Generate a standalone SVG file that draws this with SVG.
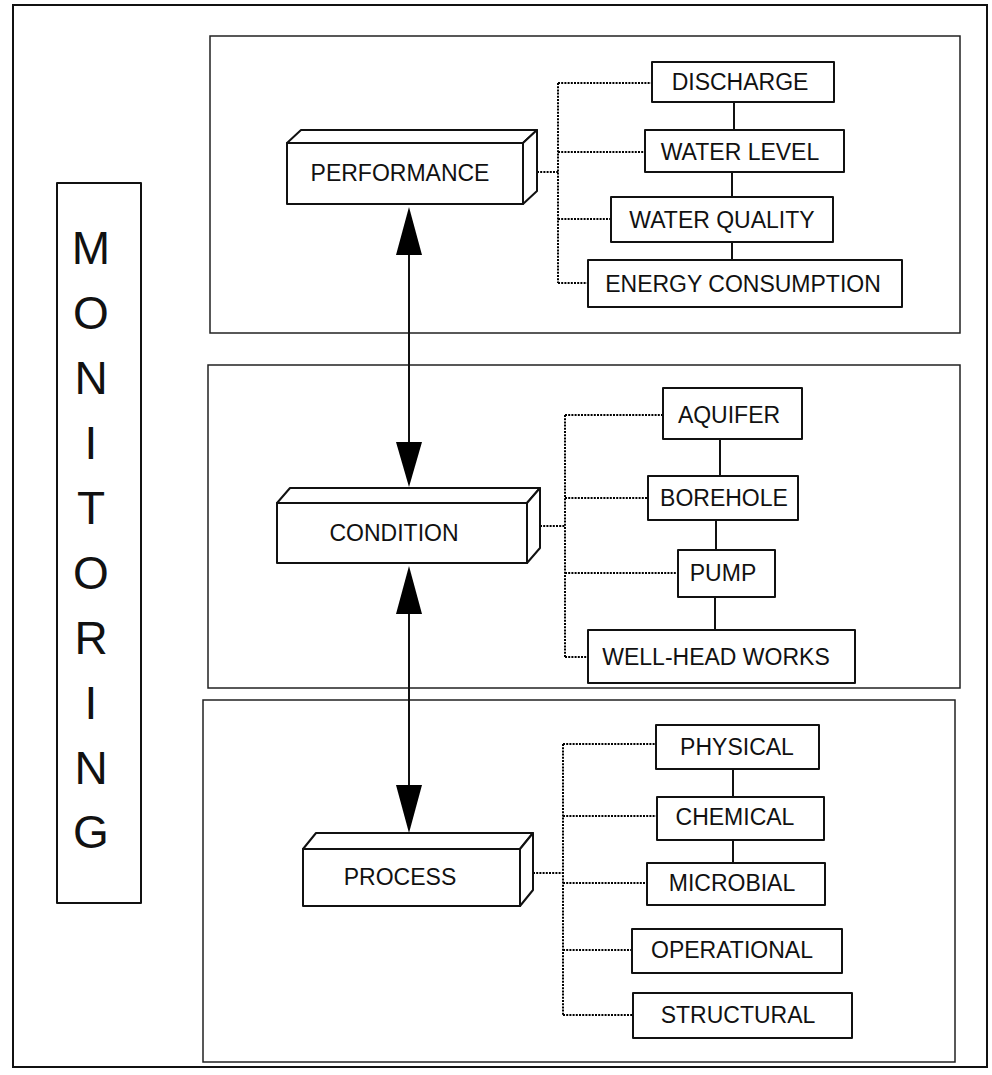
<svg xmlns="http://www.w3.org/2000/svg" width="992" height="1075" viewBox="0 0 992 1075">
<style>
.frame{fill:none;stroke:#111;stroke-width:2}
.sec{fill:none;stroke:#222;stroke-width:1.5}
.box{fill:#fff;stroke:#111;stroke-width:2;stroke-linejoin:round}
.lbl{font-family:"Liberation Sans",Arial,sans-serif;font-size:23px;fill:#111;text-anchor:middle}
.big{font-family:"Liberation Sans",Arial,sans-serif;font-size:46px;fill:#111;text-anchor:middle}
.dot{fill:none;stroke:#000;stroke-width:2;stroke-dasharray:2 1.2}
.sol{fill:none;stroke:#111;stroke-width:2}
.head{fill:#000}
</style>
<rect x="13" y="5" width="974" height="1062" class="frame"/>
<g id="sections">
<rect x="210" y="36" width="750" height="297" class="sec"/>
<rect x="208" y="365" width="752" height="323" class="sec"/>
<rect x="203" y="700" width="752" height="362" class="sec"/>
</g>
<g id="monitoring">
<rect x="57" y="183" width="84" height="720" class="box"/>
<text class="big" x="91" y="264">M</text>
<text class="big" x="91" y="329">O</text>
<text class="big" x="91" y="394">N</text>
<text class="big" x="91" y="459">I</text>
<text class="big" x="91" y="524">T</text>
<text class="big" x="91" y="589">O</text>
<text class="big" x="91" y="654">R</text>
<text class="big" x="91" y="719">I</text>
<text class="big" x="91" y="784">N</text>
<text class="big" x="91" y="848">G</text>
</g>
<g id="connectors">
<line x1="409" y1="230" x2="409" y2="465" class="sol"/>
<polygon class="head" points="409,207 396,255 422,255"/>
<polygon class="head" points="409,487 396,442 422,442"/>
<line x1="409" y1="590" x2="409" y2="810" class="sol"/>
<polygon class="head" points="409,566 396,614 422,614"/>
<polygon class="head" points="409,833 396,785 422,785"/>
<path class="dot" d="M537 172H558M558 83V283M558 83H652M558 152H645M558 219H611M558 283H588"/>
<path class="dot" d="M540 526H565M565 415V657M565 415H663M565 498H648M565 573H678M565 657H588"/>
<path class="dot" d="M533 873H563M563 744V1015M563 744H656M563 816H657M563 883H647M563 950H632M563 1015H633"/>
<path class="sol" d="M734 102V130M732 172V197M732 242V260M720 439V476M716 520V550M715 597V630M733 769V797M733 840V863"/>
</g>
<g id="performance">
<polygon class="box" points="287,143 301,130 537,130 523,143"/>
<polygon class="box" points="523,143 537,130 537,191 523,204"/>
<rect x="287" y="143" width="236" height="61" class="box"/>
<text class="lbl" x="400" y="181">PERFORMANCE</text>
</g>
<g id="condition">
<polygon class="box" points="277,503 290,488 540,488 527,503"/>
<polygon class="box" points="527,503 540,488 540,548 527,563"/>
<rect x="277" y="503" width="250" height="60" class="box"/>
<text class="lbl" x="394" y="541">CONDITION</text>
</g>
<g id="process">
<polygon class="box" points="303,849 316,833 533,833 520,849"/>
<polygon class="box" points="520,849 533,833 533,890 520,906"/>
<rect x="303" y="849" width="217" height="57" class="box"/>
<text class="lbl" x="400" y="885">PROCESS</text>
</g>
<g id="discharge"><rect x="652" y="62" width="182" height="40" class="box"/><text class="lbl" x="740" y="90">DISCHARGE</text></g>
<g id="water-level"><rect x="645" y="130" width="199" height="42" class="box"/><text class="lbl" x="740" y="160">WATER LEVEL</text></g>
<g id="water-quality"><rect x="611" y="197" width="222" height="45" class="box"/><text class="lbl" x="722" y="228">WATER QUALITY</text></g>
<g id="energy"><rect x="588" y="260" width="314" height="47" class="box"/><text class="lbl" x="743" y="292">ENERGY CONSUMPTION</text></g>
<g id="aquifer"><rect x="663" y="388" width="139" height="51" class="box"/><text class="lbl" x="729" y="423">AQUIFER</text></g>
<g id="borehole"><rect x="648" y="476" width="150" height="44" class="box"/><text class="lbl" x="724" y="506">BOREHOLE</text></g>
<g id="pump"><rect x="678" y="550" width="97" height="47" class="box"/><text class="lbl" x="723" y="581">PUMP</text></g>
<g id="well-head"><rect x="588" y="630" width="267" height="53" class="box"/><text class="lbl" x="716" y="665">WELL-HEAD WORKS</text></g>
<g id="physical"><rect x="656" y="725" width="163" height="44" class="box"/><text class="lbl" x="737" y="755">PHYSICAL</text></g>
<g id="chemical"><rect x="657" y="797" width="167" height="43" class="box"/><text class="lbl" x="735" y="825">CHEMICAL</text></g>
<g id="microbial"><rect x="647" y="863" width="178" height="42" class="box"/><text class="lbl" x="732" y="891">MICROBIAL</text></g>
<g id="operational"><rect x="632" y="929" width="210" height="44" class="box"/><text class="lbl" x="732" y="958">OPERATIONAL</text></g>
<g id="structural"><rect x="633" y="993" width="219" height="45" class="box"/><text class="lbl" x="738" y="1023">STRUCTURAL</text></g>
</svg>
